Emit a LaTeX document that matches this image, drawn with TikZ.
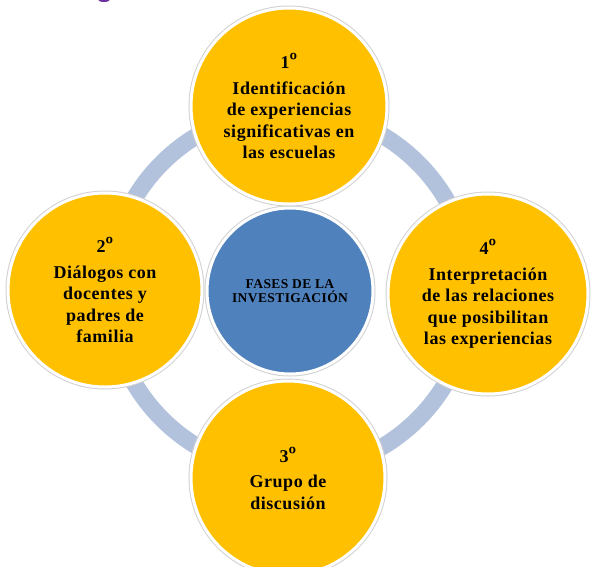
\documentclass[tikz,border=0pt]{standalone}
\usepackage{fontspec}
\setmainfont{Liberation Serif}
\newfontfamily\fasefont[LetterSpace=3]{Liberation Serif}
\usepackage{tikz}
\definecolor{amarillo}{HTML}{FFC000}
\definecolor{azul}{HTML}{4F81BD}
\definecolor{anillo}{HTML}{B3C2DC}
\definecolor{morado}{HTML}{7030A0}
\newcommand\fase[5]{\node[fase,minimum size=#3] (#1) at (#2) {#4{\fontsize{23}{20}\selectfont º}\\[4pt]#5};}
\begin{document}
\begin{tikzpicture}[x=1pt,y=-1pt]
\tikzstyle{borde}=[preaction={draw=black!18,line width=5pt},draw=white,line width=3pt]
\tikzstyle{fase}=[borde,circle,fill=amarillo,inner sep=0pt,align=center,
  font=\fasefont\bfseries\fontsize{18}{21.5}\selectfont]
\tikzstyle{centro}=[borde,circle,fill=azul,inner sep=0pt,minimum size=166,align=center,
  font=\fasefont\bfseries\fontsize{13.5}{13.5}\selectfont]
\clip (0,0) rectangle (591,566);
% anillo de fondo
\coordinate (medio) at (290,291);
\draw[anillo,line width=17pt] (medio) circle[radius=181];
% fragmento del titulo
\fill[morado] (104,-0.5) ellipse[x radius=6,y radius=2.5];
\node[centro] (fases) at (medio) {FASES DE LA\\INVESTIGACIÓN};
\fase{uno}{289,106}{196}{1}{Identificación\\de experiencias\\significativas en\\las escuelas}
\fase{dos}{105,290}{194}{2}{Diálogos con\\docentes y\\padres de\\familia}
\fase{cuatro}{488,294}{200}{4}{Interpretación\\de las relaciones\\que posibilitan\\las experiencias}
\fase{tres}{288,478}{194}{3}{Grupo de\\discusión}
\end{tikzpicture}
\end{document}
